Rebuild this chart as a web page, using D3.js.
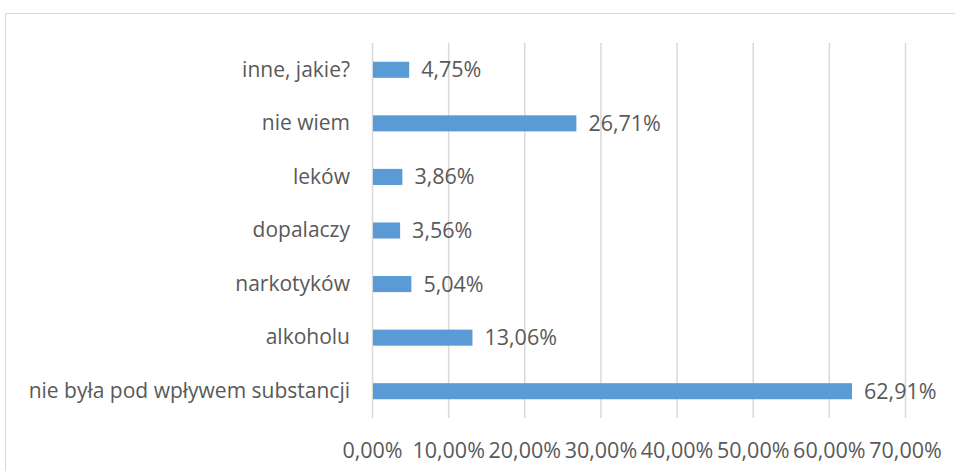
<!DOCTYPE html>
<html><head><meta charset="utf-8">
<script src="https://cdn.jsdelivr.net/npm/d3@7"></script>
<style>
html,body{margin:0;padding:0;background:#fff;}
svg{display:block;}
text{font-family:"Open Sans",sans-serif;fill:#595959;}
</style></head>
<body>
<svg id="c" width="955" height="471"></svg>
<script>
const categories = ["inne, jakie?", "nie wiem", "leków", "dopalaczy", "narkotyków", "alkoholu", "nie była pod wpływem substancji"];
const values = [4.75, 26.71, 3.86, 3.56, 5.04, 13.06, 62.91];
const tickValues = [0, 10, 20, 30, 40, 50, 60, 70];

const svg = d3.select("#c");
const W = 955, H = 471;
const m = {left: 372, right: 50, top: 43, bottom: 53};
const FS_CAT = 21, FS_NUM = 21.5;
const FF = "Open Sans";

svg.append("rect").attr("x", 5.5).attr("y", 13.5).attr("width", 960).attr("height", 480)
  .attr("fill", "none").attr("stroke", "#d9d9d9").attr("stroke-width", 1);

const x = d3.scaleLinear().domain([0, 70]).range([m.left, 905]);
const y = d3.scaleBand().domain(categories).range([m.top, H - m.bottom]).paddingInner(0.7).paddingOuter(0.35);

const fmt = v => v.toFixed(2).replace(".", ",") + "%";

svg.append("g").selectAll("line").data(tickValues).join("line")
  .attr("x1", d => x(d) + 0.5).attr("x2", d => x(d) + 0.5)
  .attr("y1", m.top).attr("y2", H - m.bottom)
  .attr("stroke", "#d9d9d9").attr("stroke-width", 1.5);

const xa = svg.append("g").attr("transform", `translate(0,${H - m.bottom})`)
  .call(d3.axisBottom(x).tickValues(tickValues).tickSize(0).tickPadding(25).tickFormat(d => fmt(d)));
xa.select(".domain").remove();
xa.selectAll("text").attr("font-size", FS_NUM).style("fill", "#595959").attr("font-family", FF);

const ya = svg.append("g").attr("transform", `translate(${m.left},0)`)
  .call(d3.axisLeft(y).tickSize(0).tickPadding(22));
ya.select(".domain").remove();
ya.selectAll("text").attr("font-size", FS_CAT).style("fill", "#595959").attr("font-family", FF);

svg.append("g").selectAll("rect").data(categories).join("rect")
  .attr("x", x(0) + 1).attr("y", (d) => y(d))
  .attr("width", (d, i) => x(values[i]) - x(0)).attr("height", y.bandwidth())
  .attr("fill", "#5b9bd5");

svg.append("g").selectAll("text").data(categories).join("text")
  .attr("x", (d, i) => x(values[i]) + 13)
  .attr("y", d => y(d) + y.bandwidth() / 2)
  .attr("dy", "0.35em").attr("font-size", FS_NUM).attr("font-family", FF)
  .text((d, i) => fmt(values[i]));
</script>
</body></html>
